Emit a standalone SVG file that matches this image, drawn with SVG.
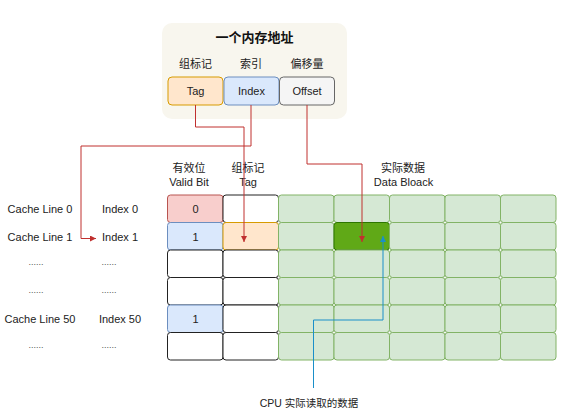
<svg xmlns="http://www.w3.org/2000/svg" width="576" height="418" viewBox="0 0 576 418">
<style>
text{font-family:"Liberation Sans","Noto Sans CJK SC",sans-serif;font-size:11px;fill:#222;text-anchor:middle}
.t{font-size:13px;font-weight:bold;fill:#111}
.dots{font-size:9px;fill:#555}
.w{fill:#fff;stroke:#222;stroke-width:1}
.g{fill:#d5e8d4;stroke:#82b366;stroke-width:1}
.gd{fill:#60a917;stroke:#2d7600;stroke-width:1}
.pk{fill:#f8cecc;stroke:#b85450;stroke-width:1}
.bl{fill:#dae8fc;stroke:#6c8ebf;stroke-width:1}
.or{fill:#ffe6cc;stroke:#d79b00;stroke-width:1}
.gy{fill:#f5f5f5;stroke:#666;stroke-width:1}
.r{fill:none;stroke:#c0302f;stroke-width:1}
.b{fill:none;stroke:#1a8fc9;stroke-width:1}
</style>
<defs>
<marker id="ar" markerWidth="7" markerHeight="7" refX="6" refY="3" orient="auto" markerUnits="userSpaceOnUse"><path d="M0,0 L6,3 L0,6 z" fill="#c0302f"/></marker>
<marker id="ab" markerWidth="7" markerHeight="7" refX="6" refY="3" orient="auto" markerUnits="userSpaceOnUse"><path d="M0,0 L6,3 L0,6 z" fill="#1a8fc9"/></marker>
</defs>

<g id="address">
<rect x="162" y="23" width="185" height="96" rx="10" fill="#f8f6ee"/>
<text class="t" x="254.5" y="42">一个内存地址</text>
<text x="195.5" y="68">组标记</text>
<text x="251" y="68">索引</text>
<text x="307" y="68">偏移量</text>
</g>
<g id="addr-tag"><rect class="or" x="168" y="77" width="55" height="28" rx="4"/><text x="195.5" y="95">Tag</text></g>
<g id="addr-index"><rect class="bl" x="224" y="77" width="55" height="28" rx="4"/><text x="251.5" y="95">Index</text></g>
<g id="addr-offset"><rect class="gy" x="279.5" y="77" width="55" height="28" rx="4"/><text x="307" y="95">Offset</text></g>

<g id="row-labels">
<text x="40" y="213">Cache Line 0</text>
<text x="120" y="213">Index 0</text>
<text x="40" y="240.5">Cache Line 1</text>
<text x="120" y="240.5">Index 1</text>
<text class="dots" x="36" y="265">......</text>
<text class="dots" x="109" y="265">......</text>
<text class="dots" x="36" y="292.5">......</text>
<text class="dots" x="109" y="292.5">......</text>
<text x="40" y="323">Cache Line 50</text>
<text x="120" y="323">Index 50</text>
<text class="dots" x="36" y="347.5">......</text>
<text class="dots" x="109" y="347.5">......</text>
</g>

<g id="headers">
<text x="189" y="172">有效位</text>
<text x="189" y="186">Valid Bit</text>
<text x="248" y="172">组标记</text>
<text x="248" y="186">Tag</text>
<text x="403" y="172">实际数据</text>
<text x="403.5" y="186">Data Bloack</text>
</g>

<g id="valid-col">
<rect class="pk" x="167.5" y="195" width="55.5" height="27.5" rx="3"/>
<rect class="bl" x="167.5" y="222.5" width="55.5" height="27.5" rx="3"/>
<rect class="w" x="167.5" y="250" width="55.5" height="27.5" rx="3"/>
<rect class="w" x="167.5" y="277.5" width="55.5" height="27.5" rx="3"/>
<rect class="bl" x="167.5" y="305" width="55.5" height="27.5" rx="3"/>
<rect class="w" x="167.5" y="332.5" width="55.5" height="27.5" rx="3"/>
<text x="195.5" y="213">0</text>
<text x="195.5" y="240.5">1</text>
<text x="195.5" y="323">1</text>
</g>

<g id="tag-col">
<rect class="w" x="223" y="195" width="55.5" height="27.5" rx="3"/>
<rect class="or" x="223" y="222.5" width="55.5" height="27.5" rx="3"/>
<rect class="w" x="223" y="250" width="55.5" height="27.5" rx="3"/>
<rect class="w" x="223" y="277.5" width="55.5" height="27.5" rx="3"/>
<rect class="w" x="223" y="305" width="55.5" height="27.5" rx="3"/>
<rect class="w" x="223" y="332.5" width="55.5" height="27.5" rx="3"/>
</g>

<g id="data-block">
<rect class="g" x="278.5" y="195" width="55.5" height="27.5" rx="3"/>
<rect class="g" x="334" y="195" width="55.5" height="27.5" rx="3"/>
<rect class="g" x="389.5" y="195" width="55.5" height="27.5" rx="3"/>
<rect class="g" x="445" y="195" width="55.5" height="27.5" rx="3"/>
<rect class="g" x="500.5" y="195" width="55.5" height="27.5" rx="3"/>
<rect class="g" x="278.5" y="222.5" width="55.5" height="27.5" rx="3"/>
<rect class="gd" x="334" y="222.5" width="55.5" height="27.5" rx="3"/>
<rect class="g" x="389.5" y="222.5" width="55.5" height="27.5" rx="3"/>
<rect class="g" x="445" y="222.5" width="55.5" height="27.5" rx="3"/>
<rect class="g" x="500.5" y="222.5" width="55.5" height="27.5" rx="3"/>
<rect class="g" x="278.5" y="250" width="55.5" height="27.5" rx="3"/>
<rect class="g" x="334" y="250" width="55.5" height="27.5" rx="3"/>
<rect class="g" x="389.5" y="250" width="55.5" height="27.5" rx="3"/>
<rect class="g" x="445" y="250" width="55.5" height="27.5" rx="3"/>
<rect class="g" x="500.5" y="250" width="55.5" height="27.5" rx="3"/>
<rect class="g" x="278.5" y="277.5" width="55.5" height="27.5" rx="3"/>
<rect class="g" x="334" y="277.5" width="55.5" height="27.5" rx="3"/>
<rect class="g" x="389.5" y="277.5" width="55.5" height="27.5" rx="3"/>
<rect class="g" x="445" y="277.5" width="55.5" height="27.5" rx="3"/>
<rect class="g" x="500.5" y="277.5" width="55.5" height="27.5" rx="3"/>
<rect class="g" x="278.5" y="305" width="55.5" height="27.5" rx="3"/>
<rect class="g" x="334" y="305" width="55.5" height="27.5" rx="3"/>
<rect class="g" x="389.5" y="305" width="55.5" height="27.5" rx="3"/>
<rect class="g" x="445" y="305" width="55.5" height="27.5" rx="3"/>
<rect class="g" x="500.5" y="305" width="55.5" height="27.5" rx="3"/>
<rect class="g" x="278.5" y="332.5" width="55.5" height="27.5" rx="3"/>
<rect class="g" x="334" y="332.5" width="55.5" height="27.5" rx="3"/>
<rect class="g" x="389.5" y="332.5" width="55.5" height="27.5" rx="3"/>
<rect class="g" x="445" y="332.5" width="55.5" height="27.5" rx="3"/>
<rect class="g" x="500.5" y="332.5" width="55.5" height="27.5" rx="3"/>
</g>

<g id="cpu-label"><text x="309" y="407" style="font-size:10.5px">CPU 实际读取的数据</text></g>

<g id="connectors">
<path class="r" d="M195.5 105 V127 H244 V242" marker-end="url(#ar)"/>
<path class="r" d="M251 105 V146 H81 V238.5 H96" marker-end="url(#ar)"/>
<path class="r" d="M307 105 V164 H362 V242" marker-end="url(#ar)"/>
<path class="b" d="M313.5 388 V320 H383 V236" marker-end="url(#ab)"/>
</g>
</svg>
